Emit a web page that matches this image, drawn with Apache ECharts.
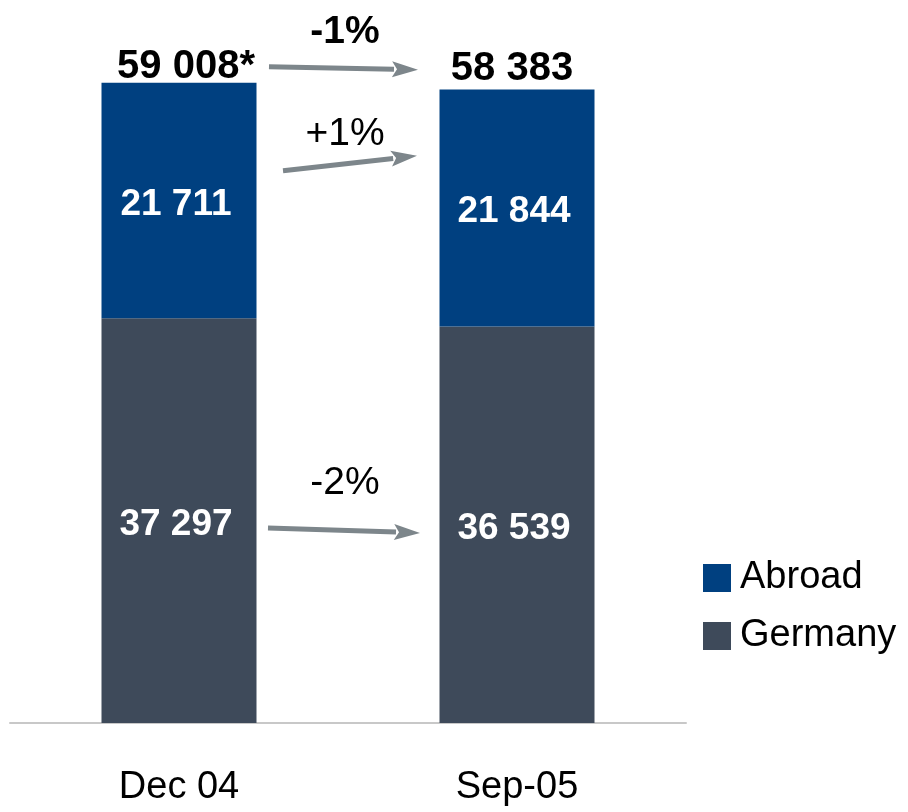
<!DOCTYPE html>
<html>
<head>
<meta charset="utf-8">
<script src="https://cdn.jsdelivr.net/npm/echarts@6/dist/echarts.min.js"></script>
<style>
  html, body { margin: 0; padding: 0; background: #fff; }
  #chart { width: 908px; height: 812px; }
</style>
</head>
<body>
<div id="chart"></div>
<script>
const categories = ['Dec 04', 'Sep-05'];
const abroad = [21711, 21844];
const germany = [37297, 36539];
const totalSuffix = ['*', ''];
// change annotations: label, label value, arrow start/end values
const changeLabels = ['-1%', '+1%', '-2%'];
const changeBold = [true, false, false];
const changeLabelValue = [63700, 54300, 22130];
const arrowFrom = [60480, 50890, 17980];
const arrowTo = [60210, 52280, 17520];

const totals = abroad.map((v, i) => v + germany[i]);
const fmt = v => String(v).replace(/\B(?=(\d{3})+(?!\d))/g, ' ');

const chart = echarts.init(document.getElementById('chart'));

const font = 'Liberation Sans, Arial, sans-serif';

chart.setOption({
  animation: false,
  textStyle: { fontFamily: font },
  grid: { left: 10, right: 222, top: 72, bottom: 89 },
  legend: {
    data: ['Abroad', 'Germany'],
    orient: 'vertical',
    left: 703,
    top: 559,
    padding: 0,
    icon: 'rect',
    itemWidth: 28,
    itemHeight: 28,
    itemGap: 20,
    textStyle: { fontSize: 38, color: '#000', fontFamily: font, padding: [0, 0, 0, 4] }
  },
  xAxis: {
    type: 'category',
    data: categories,
    axisLine: { lineStyle: { color: '#c8c8c8', width: 2 } },
    axisTick: { show: false },
    axisLabel: { fontSize: 38, color: '#000', margin: 46, fontFamily: font }
  },
  yAxis: {
    type: 'value',
    min: 0,
    max: 60000,
    show: false,
    splitLine: { show: false }
  },
  series: [
    {
      name: 'Germany',
      type: 'bar',
      stack: 'total',
      barWidth: 155,
      data: germany,
      itemStyle: { color: '#3e4a5a' },
      label: {
        show: true,
        position: 'inside',
        offset: [-3, 4],
        color: '#fff',
        fontSize: 37,
        fontWeight: 'bold',
        fontFamily: font,
        formatter: p => fmt(p.value)
      }
    },
    {
      name: 'Abroad',
      type: 'bar',
      stack: 'total',
      barWidth: 155,
      data: abroad,
      itemStyle: { color: '#004080' },
      label: {
        show: true,
        position: 'inside',
        offset: [-3, 4],
        color: '#fff',
        fontSize: 37,
        fontWeight: 'bold',
        fontFamily: font,
        formatter: p => fmt(p.value)
      }
    },
    {
      name: 'Total',
      type: 'scatter',
      symbolSize: 0,
      silent: true,
      itemStyle: { opacity: 1 },
      data: totals.map((v, i) => ({
        value: v,
        label: { offset: [i === 0 ? 7 : -5, i === 0 ? 6 : 1] }
      })),
      label: {
        show: true,
        position: 'top',
        distance: 2,
        color: '#000',
        fontSize: 40,
        fontWeight: 'bold',
        fontFamily: font,
        formatter: p => fmt(p.value) + totalSuffix[p.dataIndex]
      }
    }
  ]
});

// arrows and change labels, placed from the axis scales
const px = (i, v) => chart.convertToPixel({ xAxisIndex: 0, yAxisIndex: 0 }, [i, v]);
const c0 = px(0, 0)[0];
const c1 = px(1, 0)[0];
const mid = (c0 + c1) / 2;
const startX = [c0 + 90, c0 + 104, c0 + 89];
const endX = [c1 - 99, c1 - 100, c1 - 97];
const arrowColor = '#7d868b';
const graphics = [];

changeLabels.forEach((t, k) => {
  const y0 = px(0, arrowFrom[k])[1];
  const y1 = px(0, arrowTo[k])[1];
  const x0 = startX[k], x1 = endX[k];
  const ang = Math.atan2(y1 - y0, x1 - x0);
  const hl = 26, hw = 8;
  const bx = x1 - hl * Math.cos(ang), by = y1 - hl * Math.sin(ang);
  const nx = -Math.sin(ang), ny = Math.cos(ang);
  graphics.push({
    type: 'line',
    shape: { x1: x0, y1: y0, x2: bx + 2 * Math.cos(ang), y2: by + 2 * Math.sin(ang) },
    style: { stroke: arrowColor, lineWidth: 5 }
  });
  graphics.push({
    type: 'polygon',
    shape: { points: [[x1, y1], [bx + nx * hw, by + ny * hw], [bx + 5 * Math.cos(ang), by + 5 * Math.sin(ang)], [bx - nx * hw, by - ny * hw]] },
    style: { fill: arrowColor }
  });
  graphics.push({
    type: 'text',
    x: mid - 3,
    y: px(0, changeLabelValue[k])[1],
    style: {
      text: t,
      fill: '#000',
      font: (changeBold[k] ? 'bold ' : '') + '39px ' + font,
      textAlign: 'center',
      textVerticalAlign: 'middle'
    }
  });
});

chart.setOption({ graphic: graphics });
</script>
</body>
</html>
